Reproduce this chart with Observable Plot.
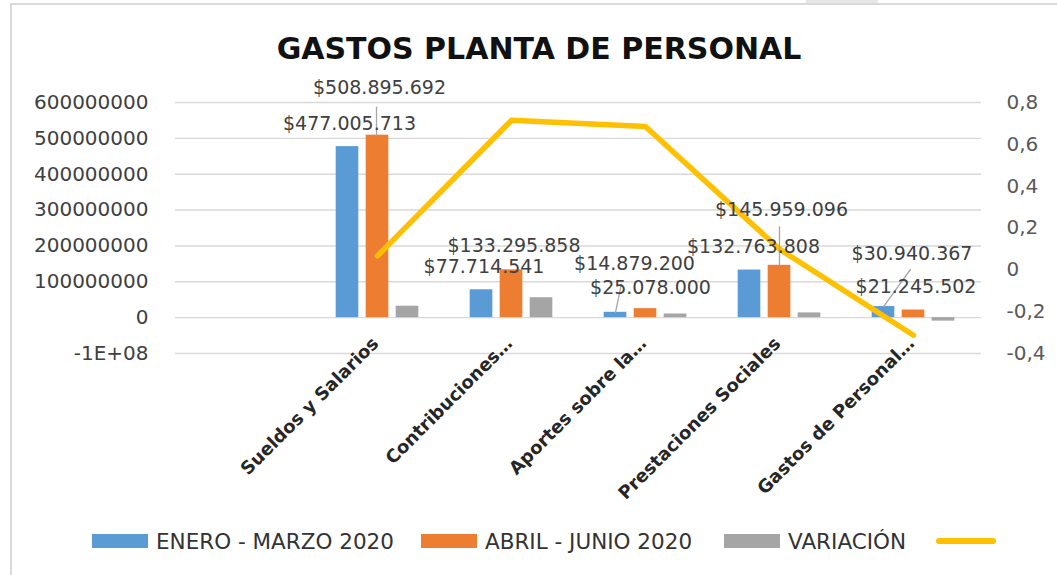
<!DOCTYPE html>
<html>
<head>
<meta charset="utf-8">
<script src="https://cdn.jsdelivr.net/npm/d3@7"></script>
<script src="https://cdn.jsdelivr.net/npm/@observablehq/plot@0.6"></script>
<style>
  html, body { margin: 0; padding: 0; background: #fff; }
  body { width: 1057px; height: 575px; overflow: hidden; position: relative; font-family: "DejaVu Sans", sans-serif; }
  #frame { position: absolute; left: 10px; top: 3px; right: -10px; bottom: -10px; border-left: 2px solid #d9d9d9; border-top: 2px solid #d9d9d9; pointer-events: none; }
  #tab { position: absolute; left: 806px; top: 0; width: 72px; height: 3px; background: #e6e6e6; }
  #title { height: 62px; line-height: 62px; padding-top: 18px; padding-left: 21px; text-align: center; font-size: 30px; font-weight: bold; color: #111; }
  #chart { height: 430px; }
  #legend { display: flex; align-items: center; height: 62px; padding-left: 92px; font-size: 21.5px; color: #333; }
  .sw { width: 56px; height: 14px; flex: none; }
  .lab { margin-left: 8px; white-space: nowrap; }
  .line { width: 60px; height: 6px; border-radius: 3px; flex: none; }
</style>
</head>
<body>
<div id="frame"></div>
<div id="tab"></div>
<div id="title">GASTOS PLANTA DE PERSONAL</div>
<div id="chart"></div>
<div id="legend"></div>
<script>
// ---- data ----
const categories = ["", "Sueldos y Salarios", "Contribuciones…", "Aportes sobre la…", "Prestaciones Sociales", "Gastos de Personal…"];
const realCategories = categories.slice(1);
const enero = [477005713, 77714541, 14879200, 132763808, 30940367];
const abril = [508895692, 133295858, 25078000, 145959096, 21245502];
const variacion = [31889979, 55581317, 10198800, 13195288, -9694865];
const ratio = [0.067, 0.715, 0.685, 0.099, -0.313];
const leftTicks = [-100000000, 0, 100000000, 200000000, 300000000, 400000000, 500000000, 600000000];
const leftTickLabels = ["-1E+08", "0", "100000000", "200000000", "300000000", "400000000", "500000000", "600000000"];
const rightTicks = [-0.4, -0.2, 0, 0.2, 0.4, 0.6, 0.8];
const rightTickLabels = ["-0,4", "-0,2", "0", "0,2", "0,4", "0,6", "0,8"];
const seriesNames = ["ENERO - MARZO 2020", "ABRIL - JUNIO 2020", "VARIACIÓN", ""];

// ---- styles / layout ----
const colors = ["#5B9BD5", "#ED7D31", "#A5A5A5", "#FFC000"];
const W = 1057, H = 430, mL = 175, mR = 76, mT = 22, mB = 157;
const bw = (W - mL - mR) / categories.length;
const barW = 23, barStep = 30;
// label offsets (px) relative to band centre / bar top
const eneroLabelDx = [-28, -27.5, -11, -26, -1.5];
const eneroLabelDy = [-23, -23, -48, -23, -53];
const abrilLabelDx = [2, 2.5, 5, 2, 2.5];
const abrilLabelDy = [-47, -24, -21, -55, -23];
// leader lines
const leaders = [
  {s: "abril", i: 0, dx: -1, length: 28, rotate: 0},
  {s: "enero", i: 2, dx: -30, length: 28.5, rotate: 11.7},
  {s: "abril", i: 3, dx: 0, length: 38.5, rotate: 0},
  {s: "enero", i: 4, dx: -30, length: 45.8, rotate: 36}
];

const yDom = [leftTicks[0], leftTicks[leftTicks.length - 1]];
const rDom = [rightTicks[0], rightTicks[rightTicks.length - 1]];
const toLeft = v => yDom[0] + (v - rDom[0]) / (rDom[1] - rDom[0]) * (yDom[1] - yDom[0]);

const locale = d3.formatLocale({decimal: ",", thousands: ".", grouping: [3], currency: ["$", ""]});
const money = locale.format("$,.0f");

const rows = s => realCategories.map((c, i) => ({cat: c, value: s[i], i}));
const eneroRows = rows(enero), abrilRows = rows(abril), varRows = rows(variacion);
const lineRows = realCategories.map((c, i) => ({cat: c, v: toLeft(ratio[i])}));
const rightPos = rightTicks.map(toLeft);

function insets(k) {
  const off = (k - 1) * barStep;
  return {insetLeft: bw / 2 + off - barW / 2, insetRight: bw / 2 - off - barW / 2};
}

const marks = [
  Plot.ruleY(leftTicks, {stroke: "#d9d9d9", strokeWidth: 1.4}),
  Plot.barY(eneroRows, {x: "cat", y: "value", fill: colors[0], ...insets(0)}),
  Plot.barY(abrilRows, {x: "cat", y: "value", fill: colors[1], ...insets(1)}),
  Plot.barY(varRows, {x: "cat", y: "value", fill: colors[2], ...insets(2)}),
  Plot.axisY(leftTicks, {anchor: "left", tickSize: 0, tickPadding: 27, fontSize: 20, fill: "#404040", label: null,
    tickFormat: d => leftTickLabels[leftTicks.indexOf(d)]}),
  Plot.axisY(rightPos, {anchor: "right", tickSize: 0, tickPadding: 25, fontSize: 20, fill: "#595959", label: null,
    tickFormat: d => rightTickLabels[rightPos.indexOf(d)]}),
  Plot.axisX(realCategories, {anchor: "bottom", tickSize: 0, tickPadding: -13, tickRotate: -45, dx: -2, label: null,
    fontSize: 18, fontWeight: "bold", fill: "#262626"}),
  Plot.line(lineRows, {x: "cat", y: "v", stroke: colors[3], strokeWidth: 5.5, strokeLinejoin: "round", strokeLinecap: "round"})
];

const leaderShape = {draw(ctx, l) { ctx.moveTo(0, 0); ctx.lineTo(0, -l); }};
for (const L of leaders) {
  const src = L.s === "enero" ? eneroRows : abrilRows;
  marks.push(Plot.vector([src[L.i]], {x: "cat", y: "value", dx: L.dx, length: () => L.length, rotate: () => L.rotate,
    anchor: "start", shape: leaderShape, stroke: "#a6a6a6", strokeWidth: 1.3}));
}
eneroRows.forEach((r, i) => marks.push(Plot.text([r], {x: "cat", y: "value", text: d => money(d.value),
  dx: eneroLabelDx[i], dy: eneroLabelDy[i], fontSize: 19, fill: "#404040"})));
abrilRows.forEach((r, i) => marks.push(Plot.text([r], {x: "cat", y: "value", text: d => money(d.value),
  dx: abrilLabelDx[i], dy: abrilLabelDy[i], fontSize: 19, fill: "#404040"})));

const chart = Plot.plot({
  width: W, height: H,
  marginLeft: mL, marginRight: mR, marginTop: mT, marginBottom: mB,
  style: {fontFamily: "DejaVu Sans, sans-serif", fontSize: "20px", background: "transparent", overflow: "visible"},
  x: {type: "band", domain: categories, padding: 0, axis: null},
  y: {domain: yDom, axis: null},
  length: {type: "identity"},
  marks
});
document.getElementById("chart").appendChild(chart);

// legend
const lg = document.getElementById("legend");
const gaps = [0, 27, 32, 30];
seriesNames.forEach((name, k) => {
  const sw = document.createElement("div");
  sw.className = k === 3 ? "line" : "sw";
  sw.style.background = colors[k];
  sw.style.marginLeft = gaps[k] + "px";
  lg.appendChild(sw);
  if (name) {
    const t = document.createElement("span");
    t.className = "lab";
    t.textContent = name;
    lg.appendChild(t);
  }
});
</script>
</body>
</html>
